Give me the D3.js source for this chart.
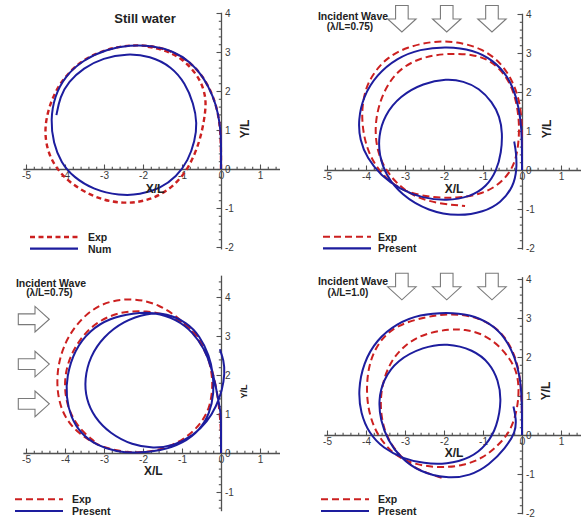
<!DOCTYPE html>
<html><head><meta charset="utf-8">
<script src="https://cdn.jsdelivr.net/npm/d3@7"></script>
<style>
body{margin:0;background:#fff}
svg{display:block}
text{font-family:"Liberation Sans",Arial,Helvetica,sans-serif}
</style>
</head><body>
<svg id="c" width="586" height="519"></svg>
<script>
// ---------- data (X/L, Y/L) ----------
const xTickValues = [-5,-4,-3,-2,-1,0,1];
const yTickValuesTop = [-2,-1,0,1,2,3,4];
const yTickValuesBeam = [-1,0,1,2,3,4];

// Panel 1: still water
const stillExp = [[0,0],[0,0.6],[-0.03,1.2],[-0.15,1.75],[-0.4,2.3],[-0.79,2.75],[-1.3,3.05],[-1.9,3.18],[-2.5,3.17],[-3.1,3.02],[-3.62,2.75],[-4.05,2.32],[-4.32,1.85],[-4.48,1.33],[-4.52,0.88],[-4.43,0.4],[-4.2,-0.02],[-3.85,-0.38],[-3.2,-0.76],[-2.5,-0.9],[-1.82,-0.81],[-1.22,-0.47],[-0.8,0.06],[-0.54,0.72],[-0.43,1.26],[-0.39,1.6],[-0.4,1.88],[-0.52,2.27],[-0.79,2.63],[-1.1,2.89],[-1.48,3.06],[-1.9,3.14]];
const stillNum = [[0,0],[0,0.5],[0,0.91],[-0.07,1.43],[-0.2,1.86],[-0.45,2.37],[-0.8,2.76],[-1.22,3.02],[-1.74,3.16],[-2.33,3.18],[-2.93,3.07],[-3.53,2.8],[-4.0,2.38],[-4.27,1.86],[-4.37,1.26],[-4.3,0.66],[-4.1,0.16],[-3.78,-0.21],[-3.27,-0.53],[-2.6,-0.68],[-2.08,-0.66],[-1.56,-0.5],[-1.14,-0.2],[-0.84,0.22],[-0.67,0.72],[-0.61,1.17],[-0.7,1.68],[-0.92,2.2],[-1.26,2.62],[-1.82,2.9],[-2.42,2.96],[-3.02,2.85],[-3.53,2.59],[-3.91,2.24],[-4.13,1.85],[-4.22,1.38]];

// Panel 2: head waves, lambda/L = 0.75
const head075Exp = [[0,0],[0,0.7],[0,1.2],[-0.05,1.7],[-0.2,2.2],[-0.52,2.75],[-1.05,3.13],[-1.67,3.29],[-2.27,3.31],[-2.96,3.15],[-3.45,2.89],[-3.8,2.5],[-4.01,2.1],[-4.1,1.62],[-4.1,1.2],[-4.02,0.68],[-3.81,0.18],[-3.47,-0.25],[-2.97,-0.58],[-2.27,-0.71],[-1.67,-0.72],[-1.08,-0.63],[-0.65,-0.42],[-0.31,-0.08],[-0.13,0.34],[-0.07,0.9],[-0.08,1.35],[-0.17,1.88],[-0.38,2.39],[-0.78,2.8],[-1.25,2.97],[-1.93,2.99],[-2.53,2.9],[-3.04,2.66],[-3.38,2.31],[-3.64,1.79],[-3.77,1.2],[-3.74,0.6],[-3.56,0.09],[-3.21,-0.36],[-2.75,-0.7],[-2.1,-0.87],[-1.46,-0.92]];
const head075Present = [[0,0],[0,0.77],[-0.03,1.28],[-0.14,1.88],[-0.35,2.39],[-0.74,2.82],[-1.25,3.08],[-1.93,3.17],[-2.62,3.1],[-3.21,2.87],[-3.73,2.44],[-4.07,1.88],[-4.2,1.28],[-4.16,0.77],[-3.97,0.3],[-3.62,-0.14],[-3.12,-0.5],[-2.55,-0.72],[-1.93,-0.79],[-1.33,-0.69],[-0.91,-0.43],[-0.65,-0.02],[-0.53,0.45],[-0.5,0.95],[-0.57,1.37],[-0.76,1.74],[-1.1,2.1],[-1.5,2.28],[-1.93,2.34],[-2.53,2.23],[-3.13,1.9],[-3.53,1.4],[-3.68,0.86],[-3.66,0.38],[-3.5,-0.12],[-3.1,-0.64],[-2.4,-1.06],[-1.62,-1.19],[-0.99,-1.08],[-0.54,-0.84],[-0.22,-0.43],[-0.13,0.02],[-0.15,0.45],[-0.2,0.73]];

// Panel 3: beam waves, lambda/L = 0.75
const beam075Exp = [[0,0],[0,0.6],[-0.05,1.2],[-0.14,1.8],[-0.3,2.4],[-0.6,2.98],[-1.04,3.43],[-1.56,3.8],[-2.25,3.99],[-3.1,3.86],[-3.7,3.34],[-4.06,2.73],[-4.22,2.04],[-4.18,1.36],[-3.97,0.84],[-3.62,0.48],[-3.2,0.21],[-2.6,0.03],[-2.0,0.0],[-1.4,0.12],[-0.9,0.38],[-0.5,0.76],[-0.27,1.2],[-0.2,1.8],[-0.28,2.3],[-0.45,2.82],[-0.79,3.24],[-1.3,3.53],[-1.9,3.65],[-2.59,3.63],[-3.2,3.36],[-3.65,2.9],[-3.95,2.3],[-4.03,1.7],[-3.92,1.1],[-3.62,0.6],[-3.25,0.3]];
const beam075Present = [[0,0],[0,0.6],[0,1.0],[-0.06,1.3],[-0.14,1.75],[-0.25,2.2],[-0.42,2.66],[-0.72,3.1],[-1.15,3.43],[-1.7,3.61],[-2.25,3.59],[-2.85,3.46],[-3.36,3.15],[-3.76,2.64],[-3.96,1.95],[-3.97,1.45],[-3.86,0.93],[-3.6,0.5],[-3.18,0.19],[-2.68,0.03],[-2.16,0.0],[-1.56,0.05],[-0.97,0.25],[-0.54,0.59],[-0.29,1.01],[-0.18,1.53],[-0.2,2.04],[-0.3,2.5],[-0.54,3.0],[-0.88,3.35],[-1.39,3.58],[-1.9,3.59],[-2.5,3.38],[-3.02,2.98],[-3.36,2.47],[-3.5,1.9],[-3.46,1.38],[-3.25,0.92],[-2.85,0.5],[-2.27,0.2],[-1.74,0.12],[-1.22,0.18],[-0.7,0.45],[-0.35,0.8],[-0.12,1.2],[0.03,1.6],[0.1,2.05],[0.07,2.38],[-0.03,2.66]];

// Panel 4: head waves, lambda/L = 1.0
const head10Exp = [[0,0],[0,0.7],[-0.03,1.3],[-0.12,1.9],[-0.4,2.5],[-0.8,2.86],[-1.3,3.06],[-1.85,3.11],[-2.45,3.04],[-3.21,2.82],[-3.64,2.44],[-3.9,1.92],[-3.99,1.32],[-3.96,0.73],[-3.81,0.21],[-3.56,-0.21],[-3.21,-0.56],[-2.7,-0.77],[-2.1,-0.84],[-1.5,-0.79],[-1.0,-0.59],[-0.65,-0.3],[-0.32,0.05],[-0.14,0.56],[-0.07,1.1],[-0.12,1.6],[-0.31,1.96],[-0.65,2.36],[-1.08,2.62],[-1.45,2.7],[-1.85,2.72],[-2.5,2.6],[-2.96,2.35],[-3.36,1.92],[-3.59,1.32],[-3.64,0.73],[-3.56,0.21],[-3.38,-0.22],[-3.04,-0.64],[-2.62,-0.92],[-2.05,-1.1]];
const head10Present = [[0,0],[0,0.9],[-0.05,1.5],[-0.18,2.0],[-0.44,2.52],[-0.82,2.87],[-1.33,3.09],[-1.93,3.15],[-2.62,3.09],[-3.21,2.86],[-3.73,2.44],[-4.07,1.84],[-4.2,1.15],[-4.14,0.56],[-3.92,0.04],[-3.56,-0.34],[-3.04,-0.61],[-2.52,-0.73],[-1.93,-0.75],[-1.33,-0.6],[-0.9,-0.25],[-0.64,0.21],[-0.52,0.9],[-0.61,1.41],[-0.82,1.84],[-1.25,2.19],[-1.93,2.36],[-2.53,2.26],[-3.21,1.92],[-3.56,1.41],[-3.68,0.9],[-3.63,0.38],[-3.44,-0.14],[-3.12,-0.58],[-2.62,-0.95],[-1.93,-1.12],[-1.33,-1.05],[-0.84,-0.77],[-0.42,-0.33],[-0.16,0.08],[-0.15,0.42],[-0.22,0.73]];

// wave arrow locations (data units)
const headArrowX = [-3.08,-1.93,-0.77];
const beamArrowY = [3.43,2.28,1.26];

// ---------- drawing ----------
const U = 39;
const RED = "#cc2020", BLUE = "#1d1d9e", AX = "#505050";
const svg = d3.select("#c");

const panels = [
  {ox:221, oy:169, xExt:[-5.08,1.5], yExt:[-2.05,4.02], yTicks:yTickValuesTop, exp:stillExp, num:stillNum, dash:"5,3.5", expW:2.4,
   numLabel:"Num", title:"Still water", leg:{x:30,y:237,tx:88}, xl:[155,192.5], yl:[249,129,12]},
  {ox:522, oy:170, xExt:[-5.08,1.5], yExt:[-2.03,4.02], yTicks:yTickValuesTop, exp:head075Exp, num:head075Present, dash:"7,4", expW:2,
   numLabel:"Present", wave:"(\u03BB/L=0.75)", waveTxt:[353,20,350,30], arrows:"down", arrowTop:5.5, leg:{x:323,y:236.7,tx:378}, xl:[454,193], yl:[551,129,12]},
  {ox:221, oy:453, xExt:[-5.08,1.5], yExt:[-1.48,4.56], yTicks:yTickValuesBeam, exp:beam075Exp, num:beam075Present, dash:"7,4", expW:2,
   numLabel:"Present", wave:"(\u03BB/L=0.75)", waveTxt:[51,286.5,49.5,296], arrows:"right", arrowLeft:18.3, leg:{x:15,y:499.3,tx:72}, xl:[153.3,475], yl:[246.5,391.5,9]},
  {ox:522, oy:435, xExt:[-5.08,1.5], yExt:[-2.02,4.06], yTicks:yTickValuesTop, exp:head10Exp, num:head10Present, dash:"7,4", expW:2,
   numLabel:"Present", wave:"(\u03BB/L=1.0)", waveTxt:[353,285,348,295.5], arrows:"down", arrowTop:273.3, leg:{x:321,y:499.3,tx:378}, xl:[454,456.7], yl:[549.5,391,12]}
];

function minorVals(ext){
  return d3.range(Math.ceil(ext[0]*5), Math.floor(ext[1]*5)+1).map(i=>i/5)
           .filter(v=>Math.abs(v-Math.round(v))>1e-6);
}

panels.forEach(p=>{
  const g = svg.append("g");
  const x = d3.scaleLinear().domain(p.xExt).range([p.ox + p.xExt[0]*U, p.ox + p.xExt[1]*U]);
  const y = d3.scaleLinear().domain(p.yExt).range([p.oy - p.yExt[0]*U, p.oy - p.yExt[1]*U]);

  // minor ticks
  g.append("g").attr("transform",`translate(0,${p.oy})`)
    .call(d3.axisBottom(x).tickValues(minorVals(p.xExt)).tickSize(-2.2).tickSizeOuter(0).tickFormat(""))
    .call(s=>s.select(".domain").remove());
  g.append("g").attr("transform",`translate(${p.ox},0)`)
    .call(d3.axisRight(y).tickValues(minorVals(p.yExt)).tickSize(-2.2).tickSizeOuter(0).tickFormat(""))
    .call(s=>s.select(".domain").remove());

  // major axes
  const xa = g.append("g").attr("transform",`translate(0,${p.oy})`)
    .call(d3.axisBottom(x).tickValues(xTickValues).tickSize(-4.5).tickSizeOuter(0).tickPadding(3).tickFormat(d=>String(d)));
  const ya = g.append("g").attr("transform",`translate(${p.ox},0)`)
    .call(d3.axisRight(y).tickValues(p.yTicks).tickSize(-4.5).tickSizeOuter(0).tickPadding(4).tickFormat(d=>String(d)));
  [xa,ya].forEach(a=>{
    a.attr("font-family",null).attr("font-size",null);
    a.selectAll("text").attr("font-size",10).attr("fill","#3a3a3a");
  });
  g.selectAll(".domain").attr("stroke",AX).attr("stroke-width",1.3);
  g.selectAll(".tick line").attr("stroke",AX).attr("stroke-width",1.1);

  // trajectories
  const line = d3.line().x(d=>x(d[0])).y(d=>y(d[1])).curve(d3.curveBasis);
  g.append("path").attr("d",line(p.exp)).attr("fill","none").attr("stroke",RED)
    .attr("stroke-width",p.expW).attr("stroke-dasharray",p.dash);
  g.append("path").attr("d",line(p.num)).attr("fill","none").attr("stroke",BLUE)
    .attr("stroke-width",2);

  // axis titles
  g.append("text").attr("x",p.xl[0]).attr("y",p.xl[1]).attr("text-anchor","middle")
    .attr("font-size",12).attr("font-weight","bold").attr("fill","#222").text("X/L");
  g.append("text").attr("transform",`translate(${p.yl[0]},${p.yl[1]}) rotate(-90)`).attr("text-anchor","middle")
    .attr("font-size",p.yl[2]).attr("font-weight","bold").attr("fill","#222").text("Y/L");

  // titles
  if(p.title){
    g.append("text").attr("x",145).attr("y",22.5).attr("text-anchor","middle")
      .attr("font-size",13).attr("font-weight","bold").attr("fill","#222").text(p.title);
  }
  if(p.wave){
    g.append("text").attr("x",p.waveTxt[0]).attr("y",p.waveTxt[1]).attr("text-anchor","middle")
      .attr("font-size",10.5).attr("font-weight","bold").attr("fill","#222").text("Incident Wave");
    g.append("text").attr("x",p.waveTxt[2]).attr("y",p.waveTxt[3]).attr("text-anchor","middle")
      .attr("font-size",10).attr("font-weight","bold").attr("fill","#222").text(p.wave);
  }

  // wave arrows (hollow)
  if(p.arrows==="down"){
    headArrowX.forEach(v=>{
      const cx = x(v), t = p.arrowTop, sh = 13.5, hd = 13, sw = 6.3, hw = 14.2;
      const pts = [[cx-sw,t],[cx+sw,t],[cx+sw,t+sh],[cx+hw,t+sh],[cx,t+sh+hd],[cx-hw,t+sh],[cx-sw,t+sh]];
      g.append("path").attr("d","M"+pts.join("L")+"Z").attr("fill","#fff").attr("stroke","#7a7a7a").attr("stroke-width",1.1);
    });
  }
  if(p.arrows==="right"){
    beamArrowY.forEach(v=>{
      const cy = y(v), l = p.arrowLeft, sh = 16.7, hd = 14.3, sw = 5.4, hw = 12.8;
      const pts = [[l,cy-sw],[l+sh,cy-sw],[l+sh,cy-hw],[l+sh+hd,cy],[l+sh,cy+hw],[l+sh,cy+sw],[l,cy+sw]];
      g.append("path").attr("d","M"+pts.join("L")+"Z").attr("fill","#fff").attr("stroke","#7a7a7a").attr("stroke-width",1.1);
    });
  }

  // legend
  const L = p.leg;
  g.append("line").attr("x1",L.x).attr("x2",L.x+48).attr("y1",L.y).attr("y2",L.y)
    .attr("stroke",RED).attr("stroke-width",p.expW).attr("stroke-dasharray",p.dash);
  g.append("line").attr("x1",L.x).attr("x2",L.x+48).attr("y1",L.y+11.7).attr("y2",L.y+11.7)
    .attr("stroke",BLUE).attr("stroke-width",2.2);
  g.append("text").attr("x",L.tx).attr("y",L.y+3.8).attr("font-size",10.5).attr("font-weight","bold").attr("fill","#222").text("Exp");
  g.append("text").attr("x",L.tx).attr("y",L.y+15.5).attr("font-size",10.5).attr("font-weight","bold").attr("fill","#222").text(p.numLabel);
});
</script>
</body></html>
